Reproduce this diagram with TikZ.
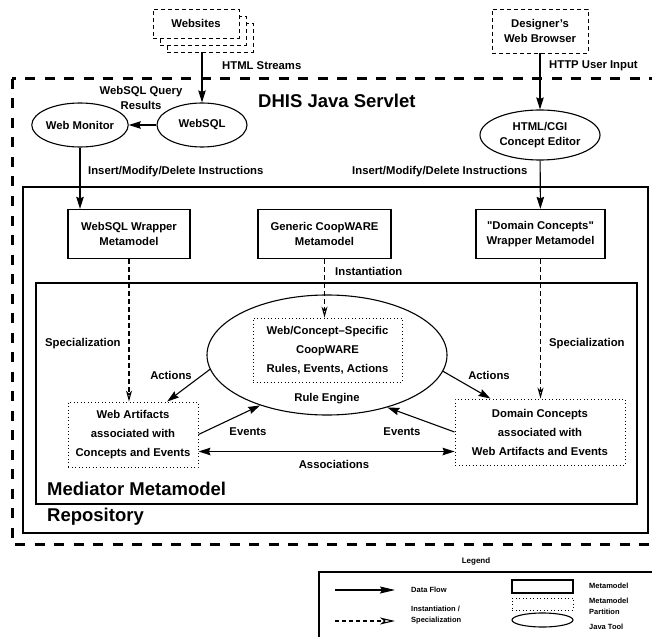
\documentclass[tikz,border=0pt]{standalone}
\usepackage{fontspec}
\setmainfont{Liberation Sans}
\newfontfamily\quotefont{Liberation Sans}
\newcommand{\dq}{{\quotefont\bfseries "}}
\usetikzlibrary{arrows.meta}
\usetikzlibrary{shapes.geometric}

\tikzset{
  flowtip/.tip={Stealth[length=12pt,width=7.5pt,inset=1.5pt]},
  insttip/.tip={Stealth[open,length=11pt,width=6pt,inset=3pt]},
}

\begin{document}
\begin{tikzpicture}[x=1pt,y=-1pt,every node/.style={align=center,inner sep=0pt},
  font=\fontsize{11.3}{15}\selectfont\bfseries,
  big/.style={font=\fontsize{18.5}{22}\selectfont\bfseries,anchor=west},
  spaced/.style={font=\fontsize{11.3}{19}\selectfont\bfseries},
  mmodel/.style={draw,line width=1.3pt,minimum height=49pt},
  part/.style={draw,line width=0.9pt,dash pattern=on 0.9pt off 2.6pt},
  tool/.style={draw,ellipse,line width=1.1pt},
  ext/.style={draw,fill=white,line width=0.9pt,dash pattern=on 4pt off 3pt},
  flow/.style={line width=1.1pt,-flowtip},
  inst/.style={line width=1.1pt,dash pattern=on 5pt off 3pt,-insttip},
  lg/.style={font=\fontsize{7.5}{11}\selectfont\bfseries,anchor=west,align=left}]
  \clip (0,0) rectangle (652,636);

  \draw[line width=3pt,dash pattern=on 10pt off 9.5pt] (12,79) rectangle (670,544);
  \draw[line width=1.3pt] (23,187) rectangle (648,533);
  \draw[line width=1.3pt] (36,283) rectangle (637,504);

  \node[big] (servlet) at (258,101) {DHIS Java Servlet};
  \node[big] (mediator) at (47,489) {Mediator Metamodel};
  \node[big] (repo) at (47,517) {Repository};

  \node[ext,minimum width=86pt,minimum height=29pt] (sites3) at (210,37.5) {};
  \node[ext,minimum width=86pt,minimum height=29pt] (sites2) at (203,30.5) {};
  \node[ext,minimum width=86pt,minimum height=29pt] (sites1) at (196,23.5) {Websites};
  \node[ext,minimum width=96pt,minimum height=44pt] (browser) at (540,31) {Designer's\\Web Browser};

  \node[tool,minimum width=90pt,minimum height=44pt] (websql) at (202,125) {WebSQL};
  \node[tool,minimum width=89pt,minimum height=44pt] (webmon) at (80,125) {Web Monitor};
  \node[tool,minimum width=120pt,minimum height=50pt] (editor) at (540,135) {HTML/CGI\\Concept Editor};

  \node[mmodel,minimum width=122pt] (sqlwrap) at (129,234) {WebSQL Wrapper\\Metamodel};
  \node[mmodel,minimum width=133pt] (generic) at (324.5,234) {Generic CoopWARE\\Metamodel};
  \node[mmodel,minimum width=129pt] (domwrap) at (540.5,234) {\dq Domain Concepts\dq\\Wrapper Metamodel};

  \node[tool,minimum width=240pt,minimum height=120pt] (engine) at (327,355) {};
  \node[part,spaced,minimum width=149pt,minimum height=64pt] (rules) at (327.5,350) {Web/Concept--Specific\\CoopWARE\\Rules, Events, Actions};
  \node (enginelbl) at (327,399) {Rule Engine};

  \node[part,spaced,minimum width=130pt,minimum height=65pt] (artifacts) at (133,434.5) {Web Artifacts\\associated with\\Concepts and Events};
  \node[part,spaced,minimum width=170pt,minimum height=66pt] (domain) at (540,432) {Domain Concepts\\associated with\\Web Artifacts and Events};

  \draw[flow] (websql |- sites3.south) -- (websql);
  \draw[flow] (websql) -- (webmon);
  \draw[flow] (webmon) -- (webmon |- sqlwrap.north);
  \draw[flow] (browser) -- (editor);
  \draw[flow] (editor) -- (domwrap);
  \draw[inst] (sqlwrap) -- (sqlwrap |- artifacts.north);
  \draw[inst] (generic) -- (generic |- rules.north);
  \draw[inst] (domwrap) -- (domwrap |- domain.north);
  \draw[flow] (engine.187) -- (artifacts.44);
  \draw[flow] (engine.352) -- (domain.146);
  \draw[flow] (artifacts.east) -- (engine.217);
  \draw[flow] (domain.west) -- (engine.319);
  \draw[line width=1.1pt,flowtip-flowtip] ([yshift=-17pt]artifacts.east) -- ([yshift=-17pt]artifacts.east -| domain.west);

  \node[anchor=west] (streams) at (222,66) {HTML Streams};
  \node[anchor=west] (userin) at (549,66) {HTTP User Input};
  \node (results) at (141,97.5) {WebSQL Query\\Results};
  \node[anchor=west] (insl) at (88,172) {Insert/Modify/Delete Instructions};
  \node[anchor=west] (insr) at (352,172) {Insert/Modify/Delete Instructions};
  \node[anchor=west] (specl) at (45,344) {Specialization};
  \node[anchor=west] (specr) at (549,344) {Specialization};
  \node[anchor=west] (instl) at (335,271) {Instantiation};
  \node (actl) at (171,375) {Actions};
  \node (actr) at (489,375) {Actions};
  \node (evl) at (248,432) {Events};
  \node (evr) at (402,432) {Events};
  \node (assoc) at (334,464) {Associations};

  \node[font=\fontsize{8}{9}\selectfont\bfseries] (legend) at (476,561) {Legend};
  \draw[line width=1.1pt] (670,572) -| (319,650);
  \coordinate (lfa) at (335,590);
  \coordinate (lfb) at (395,590);
  \coordinate (lia) at (335,621);
  \coordinate (lib) at (395,621);
  \draw[line width=1.1pt,-{Stealth[length=15pt,width=7pt,inset=2pt]}] (lfa) -- (lfb);
  \draw[line width=1.1pt,dash pattern=on 4pt off 3pt,-{Stealth[open,length=15pt,width=7pt,inset=4pt]}] (lia) -- (lib);
  \node[lg] (lgflow) at (411,590) {Data Flow};
  \node[lg] (lginst) at (411,615) {Instantiation /\\Specialization};
  \node[draw,line width=1.1pt,minimum width=61pt,minimum height=13pt] (lgmm) at (542.5,586.5) {};
  \node[part,minimum width=61pt,minimum height=12pt] (lgpart) at (542.5,604) {};
  \node[tool,minimum width=61pt,minimum height=14pt] (lgtool) at (542.5,620) {};
  \node[lg] (lgmmt) at (589,586) {Metamodel};
  \node[lg] (lgpartt) at (589,606.5) {Metamodel\\Partition};
  \node[lg] (lgtoolt) at (589,627) {Java Tool};
\end{tikzpicture}
\end{document}
